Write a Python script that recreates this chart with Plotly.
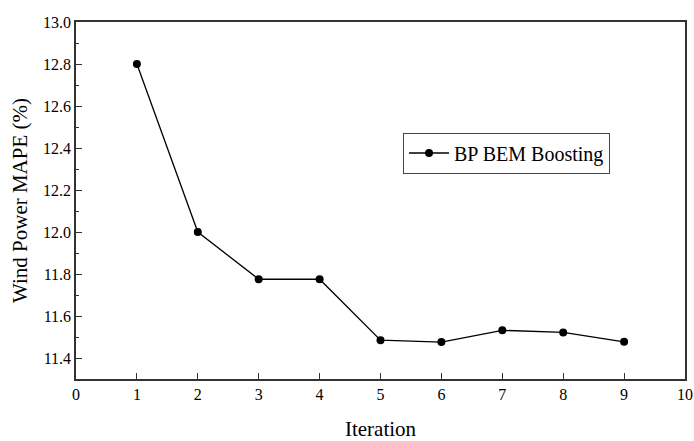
import plotly.graph_objects as go

iterations = [1, 2, 3, 4, 5, 6, 7, 8, 9]
mape = [12.80, 12.00, 11.775, 11.775, 11.485, 11.476, 11.532, 11.522, 11.477]
series_name = "BP BEM Boosting"

FONT = "Liberation Serif"

fig = go.Figure()
fig.add_trace(go.Scatter(
    x=iterations, y=mape, mode="lines+markers", name=series_name,
    line=dict(color="black", width=1.3),
    marker=dict(color="black", size=8),
))

fig.update_layout(
    width=694, height=441,
    margin=dict(l=76, r=9, t=22, b=62),
    plot_bgcolor="white", paper_bgcolor="white",
    font=dict(family=FONT, color="black", size=16),
    showlegend=True,
    legend=dict(
        x=0.537, y=0.633, xanchor="left", yanchor="middle",
        bordercolor="#444", borderwidth=1, bgcolor="white",
        font=dict(size=20, family=FONT),
        itemwidth=40,
    ),
)
fig.update_xaxes(
    range=[0, 10], dtick=1, tick0=0, automargin=False,
    ticklabeloverflow="allow",
    ticks="inside", ticklen=6, tickwidth=1.2, tickcolor="#333",
    showline=True, linecolor="#333", linewidth=1.5, mirror=True,
    showgrid=False, zeroline=False,
    title=dict(text="Iteration", font=dict(size=21, family=FONT), standoff=24),
    tickfont=dict(size=16, family=FONT),
)
fig.update_yaxes(
    range=[11.3, 13.0], tickvals=[11.4, 11.6, 11.8, 12.0, 12.2, 12.4, 12.6, 12.8, 13.0],
    ticktext=["11.4", "11.6", "11.8", "12.0", "12.2", "12.4", "12.6", "12.8", "13.0"],
    automargin=False,
    ticks="inside", ticklen=6, tickwidth=1.2, tickcolor="#333",
    minor=dict(tickvals=[11.3, 11.5, 11.7, 11.9, 12.1, 12.3, 12.5, 12.7, 12.9],
               ticks="inside", ticklen=3, tickcolor="#333", tickwidth=1),
    showline=True, linecolor="#333", linewidth=1.5, mirror=True,
    showgrid=False, zeroline=False,
    title=dict(text="Wind Power MAPE (%)", font=dict(size=21, family=FONT), standoff=10),
    tickfont=dict(size=16, family=FONT),
)

fig.write_html("out.html")
